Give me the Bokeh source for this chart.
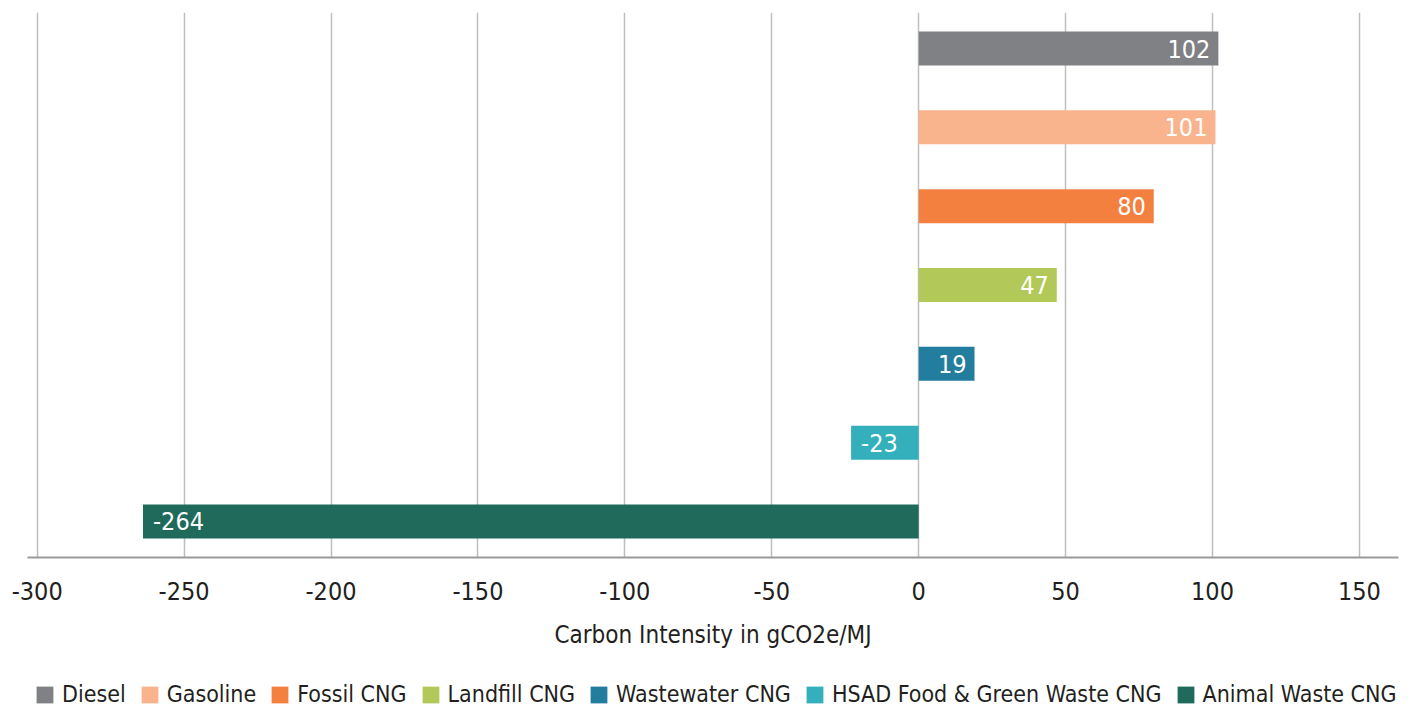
from bokeh.plotting import figure
from bokeh.layouts import column
from bokeh.models import ColumnDataSource, Range1d, Legend, LegendItem, FixedTicker
from bokeh.core.properties import value
from bokeh.embed import file_html
from bokeh.resources import INLINE

# Carbon intensity by fuel pathway (gCO2e/MJ)
fuels = ["Diesel", "Gasoline", "Fossil CNG", "Landfill CNG", "Wastewater CNG",
         "HSAD Food & Green Waste CNG", "Animal Waste CNG"]
intensity = [102, 101, 80, 47, 19, -23, -264]
colors = ["#808184", "#F9B48D", "#F4803F", "#B2C95A", "#237D9E", "#34AFBC", "#1F6A5B"]
x_ticks = [-300, -250, -200, -150, -100, -50, 0, 50, 100, 150]

FONT = "DejaVu Sans Condensed, Roboto, sans-serif"
TEXT = "#231f20"

pos = list(range(len(fuels)))
src = ColumnDataSource(dict(pos=pos, fuel=fuels, val=intensity, color=colors))
pos_src = ColumnDataSource(dict(
    pos=[i for i, v in zip(pos, intensity) if v >= 0],
    val=[v for v in intensity if v >= 0],
    lbl=[str(v) for v in intensity if v >= 0],
))
neg_src = ColumnDataSource(dict(
    pos=[i for i, v in zip(pos, intensity) if v < 0],
    val=[v for v in intensity if v < 0],
    lbl=[str(v) for v in intensity if v < 0],
))

p = figure(width=1421, height=660, output_backend="svg", toolbar_location=None,
           x_range=Range1d(-303.3, 163.3), y_range=Range1d(6.457, -0.457),
           y_axis_location=None,
           min_border_left=27, min_border_right=23, min_border_top=12,
           min_border_bottom=103)
p.outline_line_color = None
p.background_fill_color = "white"
p.border_fill_color = "white"

bars = p.hbar(y="pos", left=0, right="val", height=0.431, fill_color="color",
              line_color=None, source=src)

# value labels inside the bar ends
p.text(x="val", y="pos", text="lbl", source=pos_src, x_offset=-8,
       text_align="right", text_baseline="middle", text_color="white",
       text_font=value(FONT), text_font_size="25px")
p.text(x="val", y="pos", text="lbl", source=neg_src, x_offset=10,
       text_align="left", text_baseline="middle", text_color="white",
       text_font=value(FONT), text_font_size="25px")

# axes and grid
p.ygrid.visible = False
p.xgrid.ticker = FixedTicker(ticks=x_ticks)
p.xgrid.grid_line_color = "#bfbfbf"
p.xgrid.grid_line_width = 1.5
ax = p.xaxis[0]
ax.ticker = FixedTicker(ticks=x_ticks)
ax.major_label_overrides = {t: str(t) for t in x_ticks}
ax.axis_line_color = "#9a9a9a"
ax.axis_line_width = 2
ax.major_tick_line_color = None
ax.minor_tick_line_color = None
ax.major_tick_out = 0
ax.major_label_standoff = 24
ax.major_label_text_font = FONT
ax.major_label_text_font_size = "25px"
ax.major_label_text_color = TEXT
ax.axis_label = "Carbon Intensity in gCO2e/MJ"
ax.axis_label_standoff = 18
ax.axis_label_text_font = FONT
ax.axis_label_text_font_size = "24px"
ax.axis_label_text_font_style = "normal"
ax.axis_label_text_color = TEXT

# legend strip underneath: same bars, ranged out of view, feed the legend swatches
leg = figure(width=1421, height=49, output_backend="svg", toolbar_location=None,
             x_range=Range1d(1000, 1001), y_range=Range1d(100, 101),
             x_axis_location=None, y_axis_location=None,
             min_border_left=0, min_border_right=0, min_border_top=0,
             min_border_bottom=0)
leg.outline_line_color = None
leg.background_fill_color = "white"
leg.border_fill_color = "white"
leg.xgrid.visible = False
leg.ygrid.visible = False
leg_bars = leg.hbar(y="pos", left=0, right="val", height=0.431, fill_color="color",
                    line_color=None, source=src)

items = [LegendItem(label=f, renderers=[leg_bars], index=i) for i, f in enumerate(fuels)]
legend = Legend(items=items, orientation="horizontal", location=(7, 2),
                glyph_width=21, glyph_height=21, label_standoff=7, spacing=13,
                padding=0, margin=0, border_line_color=None,
                background_fill_alpha=0,
                label_text_font=FONT, label_text_font_size="23px",
                label_text_color=TEXT, label_height=21)
leg.add_layout(legend, "center")

layout = column(p, leg, spacing=0)
open("out.html", "w").write(file_html(layout, INLINE))
